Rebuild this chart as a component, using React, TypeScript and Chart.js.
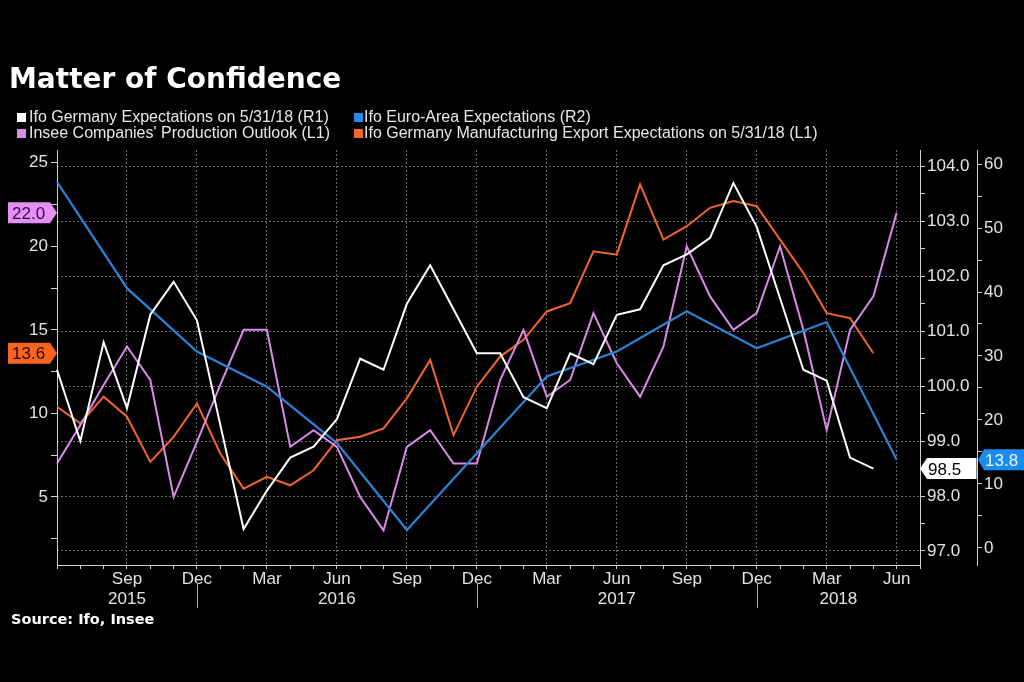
import React, { useEffect, useRef } from 'react';
import { Chart, registerables } from 'chart.js';

Chart.register(...registerables);

// ---------- data ----------
const months = [
  'Jun 2015', 'Jul 2015', 'Aug 2015', 'Sep 2015', 'Oct 2015', 'Nov 2015', 'Dec 2015',
  'Jan 2016', 'Feb 2016', 'Mar 2016', 'Apr 2016', 'May 2016', 'Jun 2016',
  'Jul 2016', 'Aug 2016', 'Sep 2016', 'Oct 2016', 'Nov 2016', 'Dec 2016',
  'Jan 2017', 'Feb 2017', 'Mar 2017', 'Apr 2017', 'May 2017', 'Jun 2017',
  'Jul 2017', 'Aug 2017', 'Sep 2017', 'Oct 2017', 'Nov 2017', 'Dec 2017',
  'Jan 2018', 'Feb 2018', 'Mar 2018', 'Apr 2018', 'May 2018', 'Jun 2018', 'Jul 2018',
];

// Ifo Germany Expectations (R1)
const ifoGermany: (number | null)[] = [
  100.3, 99.0, 100.8, 99.6, 101.3, 101.9, 101.2,
  99.3, 97.4, 98.1, 98.7, 98.9, 99.4,
  100.5, 100.3, 101.5, 102.2, 101.4, 100.6,
  100.6, 99.8, 99.6, 100.6, 100.4, 101.3,
  101.4, 102.2, 102.4, 102.7, 103.7, 102.9,
  101.6, 100.3, 100.1, 98.7, 98.5, null, null,
];

// Ifo Euro-Area Expectations (R2) - quarterly
const ifoEuroArea: (number | null)[] = [
  57.2, null, null, 40.6, null, null, 30.7,
  null, null, 25.2, null, null, 16.4,
  null, null, 2.8, null, null, 14.8,
  null, null, 26.8, null, null, 30.7,
  null, null, 37.0, null, null, 31.2,
  null, null, 35.3, null, null, 13.8, null,
];

// Insee Companies' Production Outlook (L1)
const inseeOutlook: (number | null)[] = [
  7, 9.3, 11.7, 14, 12, 5, 8.3,
  11.7, 15, 15, 8, 9, 8,
  5, 3, 8, 9, 7, 7,
  12, 15, 11, 12, 16, 13,
  11, 14, 20, 17, 15, 16,
  20, 15, 9, 15, 17, 22, null,
];

// Ifo Germany Manufacturing Export Expectations (L1)
const ifoExport: (number | null)[] = [
  10.4, 9.4, 11.0, 9.8, 7.1, 8.6, 10.6,
  7.6, 5.5, 6.2, 5.7, 6.6, 8.4,
  8.6, 9.1, 10.9, 13.2, 8.7, 11.6,
  13.4, 14.4, 16.1, 16.6, 19.7, 19.5,
  23.7, 20.4, 21.2, 22.3, 22.7, 22.4,
  20.4, 18.4, 16.0, 15.7, 13.6, null, null,
];

const quarterMonths = ['Mar', 'Jun', 'Sep', 'Dec'];
const yearLabels = ['2015', '2016', '2017', '2018'];

const leftRange = [0.93, 25.76];
const r1Range = [96.745, 104.3];
const r2Range = [-2.66, 62.19];

// ---------- style ----------
const TICK_COLOR = '#e4e4e4';
const AXIS_COLOR = '#cfcfcf';
const GRID_COLOR = '#6a6a6a';
const TICK_FONT = { family: '"Liberation Sans", Arial, sans-serif', size: 17 };

const C_WHITE = '#ffffff';
const C_BLUE = '#2b83d6';
const C_VIOLET = '#d98be8';
const C_ORANGE = '#f2652b';

const lastValue = (arr: (number | null)[]) => {
  for (let i = arr.length - 1; i >= 0; i--) if (arr[i] !== null) return arr[i] as number;
  return 0;
};

function drawTag(
  ctx: CanvasRenderingContext2D,
  dir: 'right' | 'left',
  tipX: number,
  bodyStart: number,
  bodyEnd: number,
  y: number,
  text: string,
  bg: string,
  fg: string,
) {
  const h = 21;
  ctx.beginPath();
  if (dir === 'right') {
    ctx.moveTo(bodyStart, y - h / 2);
    ctx.lineTo(bodyEnd, y - h / 2);
    ctx.lineTo(tipX, y);
    ctx.lineTo(bodyEnd, y + h / 2);
    ctx.lineTo(bodyStart, y + h / 2);
  } else {
    ctx.moveTo(bodyEnd, y - h / 2);
    ctx.lineTo(bodyStart, y - h / 2);
    ctx.lineTo(tipX, y);
    ctx.lineTo(bodyStart, y + h / 2);
    ctx.lineTo(bodyEnd, y + h / 2);
  }
  ctx.closePath();
  ctx.fillStyle = bg;
  ctx.fill();
  ctx.fillStyle = fg;
  ctx.font = '17px "Liberation Sans", Arial, sans-serif';
  ctx.textAlign = 'left';
  ctx.textBaseline = 'alphabetic';
  const tx = dir === 'right' ? bodyStart + 4 : bodyStart + 1;
  ctx.fillText(text, tx, y + 6.2);
}

const decorations = {
  id: 'decorations',
  afterDraw(chart: any) {
    const { ctx, scales } = chart;
    const x = scales.x;
    ctx.save();
    // year labels and separators
    const decIdx = months.map((m, i) => (m.startsWith('Dec') ? i : -1)).filter((i) => i >= 0);
    const bounds = [0, ...decIdx, months.length - 1];
    ctx.font = '17px "Liberation Sans", Arial, sans-serif';
    ctx.fillStyle = TICK_COLOR;
    ctx.textAlign = 'center';
    ctx.textBaseline = 'alphabetic';
    for (let k = 0; k < bounds.length - 1; k++) {
      const c = (bounds[k] + bounds[k + 1]) / 2;
      ctx.fillText(yearLabels[k], x.getPixelForValue(c), 604);
    }
    ctx.strokeStyle = '#a8a8a8';
    ctx.lineWidth = 1;
    decIdx.forEach((i) => {
      const px = Math.round(x.getPixelForValue(i)) + 0.5;
      ctx.beginPath();
      ctx.moveTo(px, 584);
      ctx.lineTo(px, 608);
      ctx.stroke();
    });

    // value tags
    const yL = scales.yL;
    const yR1 = scales.yR1;
    const yR2 = scales.yR2;
    const left = chart.chartArea.left;
    const right = chart.chartArea.right;
    const vIn = lastValue(inseeOutlook);
    const vEx = lastValue(ifoExport);
    const vGe = lastValue(ifoGermany);
    const vEu = lastValue(ifoEuroArea);
    drawTag(ctx, 'right', left, 8, left - 7, yL.getPixelForValue(vIn), vIn.toFixed(1), '#e38ff3', '#3a0c48');
    drawTag(ctx, 'right', left, 8, left - 7, yL.getPixelForValue(vEx), vEx.toFixed(1), '#f5651f', '#2a0a00');
    drawTag(ctx, 'left', right, right + 7, yR2.left - 0.5, yR1.getPixelForValue(vGe), vGe.toFixed(1), '#ffffff', '#000000');
    drawTag(ctx, 'left', yR2.left + 1, yR2.left + 7, 1024, yR2.getPixelForValue(vEu), vEu.toFixed(1), '#1a8cf0', '#e8f4ff');
    ctx.restore();
  },
};

const isMult = (v: number, m: number) => Math.abs(v / m - Math.round(v / m)) < 1e-6;

export default function App() {
  const ref = useRef<HTMLCanvasElement>(null);

  useEffect(() => {
    const canvas = ref.current;
    if (!canvas) return;
    const chart = new Chart(canvas, {
      type: 'line',
      data: {
        labels: months,
        datasets: [
          {
            label: 'Ifo Germany Expectations on 5/31/18 (R1)',
            data: ifoGermany,
            yAxisID: 'yR1',
            borderColor: C_WHITE,
            borderWidth: 2,
            pointRadius: 0,
            tension: 0,
          },
          {
            label: 'Ifo Euro-Area Expectations (R2)',
            data: ifoEuroArea,
            yAxisID: 'yR2',
            borderColor: C_BLUE,
            borderWidth: 2.2,
            pointRadius: 0,
            spanGaps: true,
            tension: 0,
          },
          {
            label: "Insee Companies' Production Outlook (L1)",
            data: inseeOutlook,
            yAxisID: 'yL',
            borderColor: C_VIOLET,
            borderWidth: 2,
            pointRadius: 0,
            tension: 0,
          },
          {
            label: 'Ifo Germany Manufacturing Export Expectations on 5/31/18 (L1)',
            data: ifoExport,
            yAxisID: 'yL',
            borderColor: C_ORANGE,
            borderWidth: 2,
            pointRadius: 0,
            tension: 0,
          },
        ],
      },
      options: {
        responsive: false,
        maintainAspectRatio: false,
        animation: false,
        devicePixelRatio: 1,
        events: [],
        layout: { padding: { top: 150, left: 0, right: 0, bottom: 0 } },
        plugins: {
          legend: { display: false },
          title: { display: false },
          tooltip: { enabled: false },
        },
        scales: {
          x: {
            type: 'category',
            offset: false,
            afterFit: (s: any) => {
              s.height = 117;
            },
            grid: {
              drawOnChartArea: true,
              color: (c: any) => {
                const m = months[c.index]?.slice(0, 3);
                return c.index > 0 && quarterMonths.includes(m) ? GRID_COLOR : 'rgba(0,0,0,0)';
              },
              tickColor: AXIS_COLOR,
              tickLength: 4,
              lineWidth: 1,
            },
            border: { color: AXIS_COLOR, dash: [2, 2] },
            ticks: {
              autoSkip: false,
              maxRotation: 0,
              minRotation: 0,
              padding: 0,
              color: TICK_COLOR,
              font: TICK_FONT,
              callback: (v: any, i: number) => {
                const m = months[i].slice(0, 3);
                return i > 0 && quarterMonths.includes(m) ? m : '';
              },
            },
          },
          yL: {
            type: 'linear',
            position: 'left',
            min: leftRange[0],
            max: leftRange[1],
            afterFit: (s: any) => {
              s.width = 57;
            },
            grid: { drawOnChartArea: false, tickColor: AXIS_COLOR, tickLength: 6 },
            border: { color: AXIS_COLOR },
            ticks: {
              stepSize: 2.5,
              includeBounds: false,
              padding: 3,
              color: TICK_COLOR,
              font: TICK_FONT,
              callback: (v: any) => (isMult(v, 5) ? String(Math.round(v)) : ''),
            },
          },
          yR1: {
            type: 'linear',
            position: 'right',
            weight: 0,
            min: r1Range[0],
            max: r1Range[1],
            afterFit: (s: any) => {
              s.width = 57;
            },
            grid: {
              drawOnChartArea: true,
              color: (c: any) => (c.tick && isMult(c.tick.value, 1) ? GRID_COLOR : 'rgba(0,0,0,0)'),
              tickColor: AXIS_COLOR,
              tickLength: 5,
            },
            border: { color: AXIS_COLOR, dash: [2, 2] },
            ticks: {
              stepSize: 0.5,
              includeBounds: false,
              padding: 2,
              color: TICK_COLOR,
              font: TICK_FONT,
              callback: (v: any) => (isMult(v, 1) ? Number(v).toFixed(1) : ''),
            },
          },
          yR2: {
            type: 'linear',
            position: 'right',
            weight: 1,
            min: r2Range[0],
            max: r2Range[1],
            afterFit: (s: any) => {
              s.width = 47;
            },
            grid: { drawOnChartArea: false, tickColor: AXIS_COLOR, tickLength: 5 },
            border: { color: AXIS_COLOR },
            ticks: {
              stepSize: 5,
              includeBounds: false,
              padding: 2,
              color: TICK_COLOR,
              font: TICK_FONT,
              callback: (v: any) => (isMult(v, 10) ? String(Math.round(v)) : ''),
            },
          },
        },
      } as any,
      plugins: [decorations],
    });
    return () => chart.destroy();
  }, []);

  const legendText: React.CSSProperties = {
    position: 'absolute',
    font: '16px "Liberation Sans", Arial, sans-serif',
    lineHeight: '16px',
    color: '#e8e8e8',
    whiteSpace: 'nowrap',
  };
  const sq = (left: number, top: number, color: string): React.CSSProperties => ({
    position: 'absolute',
    left,
    top,
    width: 9,
    height: 9,
    background: color,
  });

  return (
    <div
      style={{
        position: 'fixed',
        left: 0,
        top: 0,
        width: 1024,
        height: 682,
        background: '#000',
        overflow: 'hidden',
      }}
    >
      <canvas
        ref={ref}
        width={1024}
        height={682}
        style={{ position: 'absolute', left: 0, top: 0, width: 1024, height: 682 }}
      />
      <div
        style={{
          position: 'absolute',
          left: 9,
          top: 65,
          font: 'bold 28px "DejaVu Sans", sans-serif',
          lineHeight: '28px',
          color: '#ffffff',
          whiteSpace: 'nowrap',
        }}
      >
        Matter of Confidence
      </div>
      <div style={sq(17, 113, C_WHITE)} />
      <div style={{ ...legendText, left: 29, top: 109 }}>Ifo Germany Expectations on 5/31/18 (R1)</div>
      <div style={sq(354, 113, '#2a8be6')} />
      <div style={{ ...legendText, left: 364, top: 109 }}>Ifo Euro-Area Expectations (R2)</div>
      <div style={sq(17, 129, C_VIOLET)} />
      <div style={{ ...legendText, left: 29, top: 125 }}>Insee Companies' Production Outlook (L1)</div>
      <div style={sq(354, 129, C_ORANGE)} />
      <div style={{ ...legendText, left: 364, top: 125 }}>
        Ifo Germany Manufacturing Export Expectations on 5/31/18 (L1)
      </div>
      <div
        style={{
          position: 'absolute',
          left: 11,
          top: 612,
          font: 'bold 14.5px "DejaVu Sans", sans-serif',
          lineHeight: '15px',
          color: '#ffffff',
          whiteSpace: 'nowrap',
        }}
      >
        Source: Ifo, Insee
      </div>
    </div>
  );
}
